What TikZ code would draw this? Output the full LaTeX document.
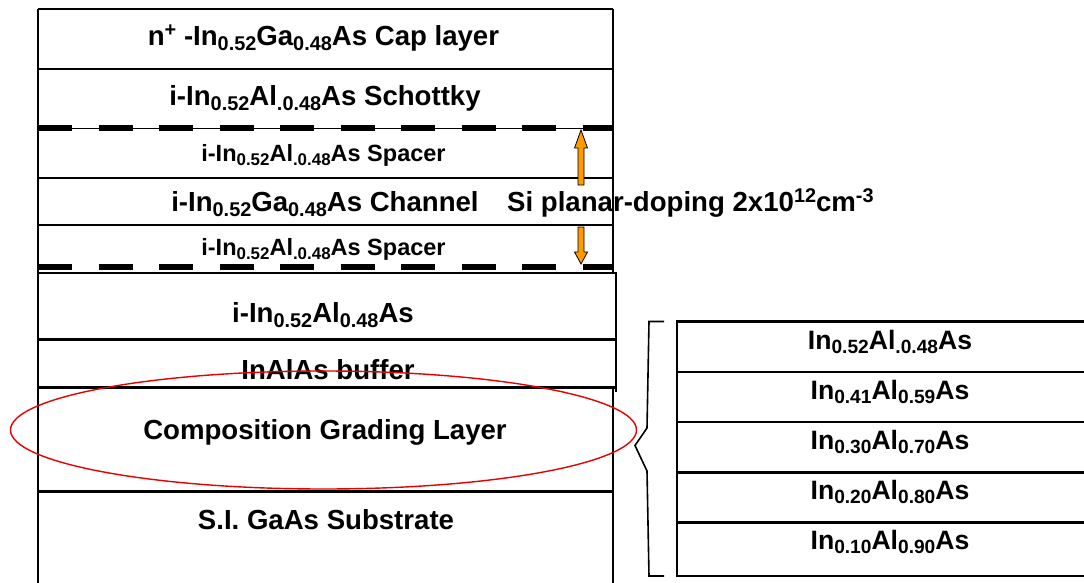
\documentclass[tikz,border=0pt]{standalone}
\usepackage{fontspec}
\usepackage{graphicx}
\setmainfont{Liberation Sans}
\definecolor{arrorange}{RGB}{255,153,0}
\definecolor{ellred}{RGB}{230,0,0}
\newcommand{\lo}[1]{\raisebox{-0.18em}{\scalebox{0.72}{#1}}}
\newcommand{\hi}[1]{\raisebox{0.34em}{\scalebox{0.72}{#1}}}
\tikzset{
  layer/.style={draw=black, line width=2.6pt},
  sep/.style={draw=black, line width=2.4pt},
  lbl/.style={font=\fontsize{27.6}{30}\selectfont\bfseries, inner sep=0pt},
  smlbl/.style={font=\fontsize{23.5}{26}\selectfont\bfseries, inner sep=0pt},
  rlbl/.style={font=\fontsize{26.6}{29}\selectfont\bfseries, inner sep=0pt},
  delta/.style={line width=6pt, dash pattern=on 34pt off 26.5pt},
  oarrow/.style={draw=black, line width=0.8pt, fill=arrorange},
  brace/.style={draw=black, line width=1.6pt}
}
\begin{document}
\begin{tikzpicture}[x=1pt,y=-1pt]
\useasboundingbox (0,0) rectangle (1084,583);
\clip (0,0) rectangle (1084,583);
\fill[white] (0,0) rectangle (1084,583);

% left stack frame
\draw[layer] (38,9) -- (613,9);
\draw[layer] (38,9) -- (38,590);
\draw[layer] (613,9) -- (613,273);
\draw[layer] (616,273) -- (616,392);
\draw[layer] (613,387) -- (613,590);
\draw[sep] (38,69) -- (613,69);
\draw[sep] (38,178) -- (613,178);
\draw[sep] (38,225) -- (613,225);
\draw[sep] (38,273) -- (617,273);
\draw[sep] (38,339.5) -- (616,339.5);
\draw[sep] (38,387.5) -- (616,387.5);
\draw[sep] (38,491.5) -- (613,491.5);

% delta doping layers
\draw[line width=1.5pt] (38,128.5) -- (613,128.5);
\draw[delta] (38,128.5) -- (613,128.5);
\draw[delta] (38,266.5) -- (613,266.5);

% labels left
\node[lbl] (cap) at (323.5,38) {n\hi{+} -In\lo{0.52}Ga\lo{0.48}As Cap layer};
\node[lbl] (schottky) at (325,98) {i-In\lo{0.52}Al\lo{.0.48}As Schottky};
\node[smlbl] (spacer1) at (323.5,155) {i-In\lo{0.52}Al\lo{.0.48}As Spacer};
\node[lbl] (channel) at (325,204) {i-In\lo{0.52}Ga\lo{0.48}As Channel};
\node[smlbl] (spacer2) at (323.5,249) {i-In\lo{0.52}Al\lo{.0.48}As Spacer};
\node[lbl] (inalas) at (323,315) {i-In\lo{0.52}Al\lo{0.48}As};
\node[lbl] (buffer) at (328,370) {InAlAs buffer};
\node[lbl] (grading) at (325,432) {Composition Grading Layer};
\node[lbl] (substrate) at (326,520) {S.I. GaAs Substrate};

% ellipse
\draw[ellred, line width=1.4pt] (323.5,430) ellipse [x radius=313, y radius=59];

% orange arrows
\draw[oarrow] (581,130) -- (587.5,148) -- (584,148) -- (584,185) -- (578,185) -- (578,148) -- (574.5,148) -- cycle;
\draw[oarrow] (581,264) -- (587.5,252) -- (584,252) -- (584,227) -- (578,227) -- (578,252) -- (574.5,252) -- cycle;

\node[lbl, anchor=west] (doping) at (507,203) {Si planar-doping 2x10\hi{12}cm\hi{-3}};

% brace
\draw[brace] (664,321.5) -- (649,321.5) -- (647,428) -- (635,445.5) -- (647,471) -- (649,576) -- (664,576);

% right stack
\draw[layer] (677,321.5) -- (1100,321.5) -- (1100,576) -- (677,576) -- cycle;
\draw[sep] (677,372) -- (1100,372);
\draw[sep] (677,422) -- (1100,422);
\draw[sep] (677,472.5) -- (1100,472.5);
\draw[sep] (677,522.5) -- (1100,522.5);
\node[rlbl] (r1) at (890,342) {In\lo{0.52}Al\lo{.0.48}As};
\node[rlbl] (r2) at (890,392) {In\lo{0.41}Al\lo{0.59}As};
\node[rlbl] (r3) at (890,442) {In\lo{0.30}Al\lo{0.70}As};
\node[rlbl] (r4) at (890,492) {In\lo{0.20}Al\lo{0.80}As};
\node[rlbl] (r5) at (890,542) {In\lo{0.10}Al\lo{0.90}As};
\end{tikzpicture}
\end{document}
